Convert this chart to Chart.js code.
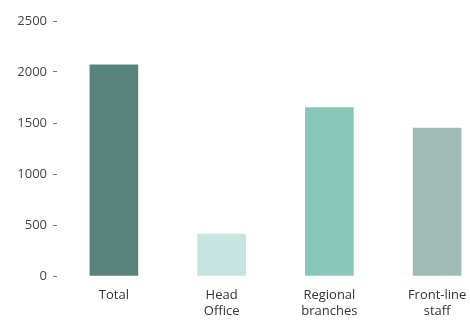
<!DOCTYPE html>
<html>
<head>
<meta charset="utf-8">
<script src="https://cdn.jsdelivr.net/npm/chart.js@4/dist/chart.umd.min.js"></script>
<style>
    html, body { margin: 0; padding: 0; background: #fff; overflow: hidden; }
    #wrap { width: 491px; height: 320px; }
</style>
</head>
<body>
<div id="wrap"><canvas id="staffChart" width="491" height="320"></canvas></div>
<script>
const categories = ['Total', ['Head', 'Office'], ['Regional', 'branches'], ['Front-line', 'staff']];
const staffCounts = [2070, 410, 1650, 1450];
const barColors = ['#57837a', '#c6e5e0', '#88c6ba', '#a0bab5'];
const yTicks = [0, 500, 1000, 1500, 2000, 2500];

const ctx = document.getElementById('staffChart').getContext('2d');

new Chart(ctx, {
    type: 'bar',
    data: {
        labels: categories,
        datasets: [{
            data: staffCounts,
            backgroundColor: barColors,
            borderWidth: 0,
            barThickness: 48
        }]
    },
    options: {
        responsive: false,
        animation: false,
        devicePixelRatio: 1,
        layout: { padding: { top: 21, left: 0, right: 0, bottom: 0 } },
        plugins: {
            legend: { display: false },
            tooltip: { enabled: false }
        },
        scales: {
            x: {
                offset: true,
                grid: { display: false, drawTicks: false },
                border: { display: false },
                ticks: {
                    padding: 11,
                    maxRotation: 0,
                    autoSkip: false,
                    color: '#333',
                    font: { family: 'Open Sans', size: 13, lineHeight: 1.25 }
                },
                afterFit: (scale) => { scale.height = 44; }
            },
            y: {
                min: yTicks[0],
                max: yTicks[yTicks.length - 1],
                afterBuildTicks: (scale) => {
                    scale.ticks = yTicks.map(v => ({ value: v }));
                },
                grid: {
                    drawOnChartArea: false,
                    tickLength: 7,
                    tickColor: '#777',
                    tickBorderDash: [4, 3]
                },
                border: { display: false },
                ticks: {
                    padding: 6,
                    color: '#444',
                    font: { family: 'Open Sans', size: 13 },
                    callback: (value) => String(value)
                },
                afterFit: (scale) => { scale.width = 60; }
            }
        }
    }
});
</script>
</body>
</html>
